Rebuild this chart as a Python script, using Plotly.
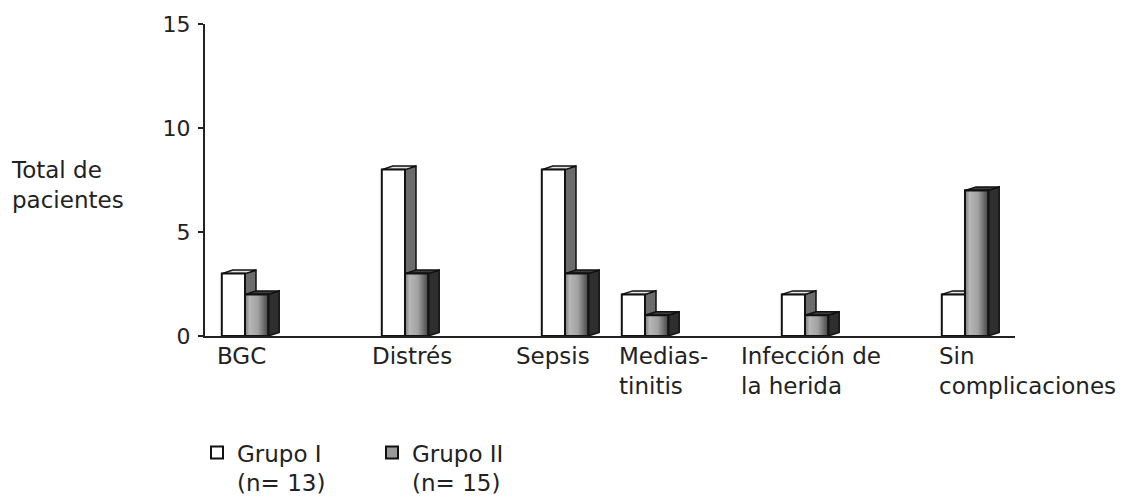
import plotly.graph_objects as go

# ---- data ----
categories = ["BGC", "Distrés", "Sepsis", "Medias-<br>tinitis", "Infección de<br>la herida", "Sin<br>complicaciones"]
grupo1 = [3, 8, 8, 2, 2, 2]
grupo2 = [2, 3, 3, 1, 1, 7]
series_names = ["Grupo I<br>(n= 13)", "Grupo II<br>(n= 15)"]
y_ticks = [0, 5, 10, 15]

# ---- layout helpers ----
slot = [0, 2, 4, 5, 7, 9]                       # category slot on the x axis
label_shift = [-30, -35, -51, -28, -66, -28]    # px offset of category labels
PAGE = 8                                        # browser body margin
W, H = 1137 - PAGE, 502 - PAGE
ML, MR, MT, MB = 205 - PAGE, 122, 24 - PAGE, 166
XR = [-0.5, 9.625]
YR = [0, 15]
PW, PH = W - ML - MR, H - MT - MB
px_x = PW / (XR[1] - XR[0])
px_y = PH / (YR[1] - YR[0])
DX = 11 / px_x      # 3D depth offset
DY = 3.5 / px_y
bw = 0.29           # bar width in slot units

FONT = "DejaVu Sans, Verdana, sans-serif"
FS = 23
TXT = "#222222"
EDGE = "#111111"

fig = go.Figure()

fig.add_trace(go.Bar(x=slot, y=grupo1, width=bw, offset=-bw, name=series_names[0],
                     hoverinfo="skip",
                     marker=dict(color="#ffffff", line=dict(color=EDGE, width=2))))
fig.add_trace(go.Bar(x=slot, y=grupo2, width=bw, offset=0, name=series_names[1],
                     hoverinfo="skip",
                     marker=dict(color="#9a9a9a", line=dict(color=EDGE, width=2))))

# gradient front faces for Grupo II (overlaid on the bars)
grad = [[0, "#7a7a7a"], [0.2, "#b6b6b6"], [0.55, "#a2a2a2"], [1, "#454545"]]
for s, v in zip(slot, grupo2):
    fig.add_trace(go.Scatter(x=[s, s + bw, s + bw, s, s], y=[0, 0, v, v, 0],
                             mode="lines", fill="toself", showlegend=False, hoverinfo="skip",
                             line=dict(color=EDGE, width=2),
                             fillgradient=dict(type="horizontal", colorscale=grad)))

shapes = []
def depth_faces(x0, x1, v, side_col, top_col):
    side = f"M {x1},0 L {x1+DX},{DY} L {x1+DX},{v+DY} L {x1},{v} Z"
    top = f"M {x0},{v} L {x0+DX},{v+DY} L {x1+DX},{v+DY} L {x1},{v} Z"
    return [
        dict(type="path", path=side, xref="x", yref="y", layer="below",
             fillcolor=side_col, line=dict(color=EDGE, width=1.5)),
        dict(type="path", path=top, xref="x", yref="y", layer="below",
             fillcolor=top_col, line=dict(color=EDGE, width=1.5)),
    ]

for s, v1, v2 in zip(slot, grupo1, grupo2):
    shapes += depth_faces(s - bw, s, v1, "#6c6c6c", "#e4e4e4")
    shapes += depth_faces(s, s + bw, v2, "#2e2e2e", "#3e3e3e")

annotations = []
for s, lab, sh in zip(slot, categories, label_shift):
    annotations.append(dict(x=s, y=0, xref="x", yref="y", text=lab, showarrow=False,
                            xanchor="left", yanchor="top", align="left", xshift=sh, yshift=-5,
                            font=dict(family=FONT, size=FS, color=TXT)))
annotations.append(dict(x=(9 - 205) / PW, y=0.484, xref="paper", yref="paper",
                        text="Total de<br>pacientes", showarrow=False, xanchor="left",
                        yanchor="middle", align="left",
                        font=dict(family=FONT, size=FS, color=TXT)))

fig.update_layout(
    width=W, height=H,
    margin=dict(l=ML, r=MR, t=MT, b=MB, pad=0, autoexpand=False),
    paper_bgcolor="white", plot_bgcolor="white",
    barmode="overlay",
    font=dict(family=FONT, size=FS, color=TXT),
    shapes=shapes, annotations=annotations,
    xaxis=dict(range=XR, showline=True, linecolor="#222222", linewidth=2,
               showgrid=False, zeroline=False, showticklabels=False, ticks="",
               fixedrange=True),
    yaxis=dict(range=YR, tickvals=y_ticks, showline=True, linecolor="#222222", linewidth=2,
               showgrid=False, zeroline=False, ticks="outside", ticklen=5, tickwidth=2,
               tickcolor="#222222", ticklabelstandoff=3, fixedrange=True,
               tickfont=dict(family=FONT, size=22, color=TXT)),
    legend=dict(orientation="h", x=(197 - 205) / PW, y=-0.305, valign="top",
                xanchor="left", yanchor="top", entrywidth=130, entrywidthmode="pixels",
                font=dict(family=FONT, size=FS, color=TXT), bgcolor="rgba(0,0,0,0)"),
    showlegend=True,
)

fig.write_html("out.html", config={"displayModeBar": False})
